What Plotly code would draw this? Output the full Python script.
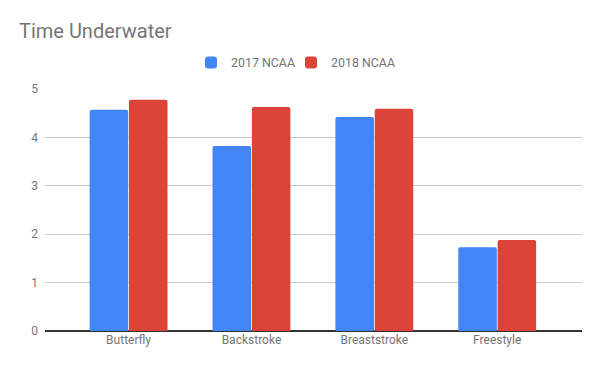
import plotly.graph_objects as go

categories = ["Butterfly", "Backstroke", "Breaststroke", "Freestyle"]
ncaa_2017 = [4.57, 3.82, 4.42, 1.73]
ncaa_2018 = [4.78, 4.63, 4.59, 1.88]
series_names = ["2017 NCAA", "2018 NCAA"]
colors = ["#4285F4", "#DB4437"]
legend_ids = ["legend", "legend2"]

fig = go.Figure()
for name, vals, c, lg in zip(series_names, [ncaa_2017, ncaa_2018], colors, legend_ids):
    fig.add_trace(go.Bar(x=categories, y=vals, name=name, legend=lg,
                         marker=dict(color=c, line=dict(width=0))))

leg_common = dict(orientation="h", xanchor="left", y=1+(89-63)/242, yanchor="middle",
                  font=dict(size=12.4, color="#757575"), itemwidth=30, bgcolor="rgba(0,0,0,0)")

fig.update_layout(
    width=600, height=371,
    paper_bgcolor="white", plot_bgcolor="white",
    font=dict(family="Roboto", color="#757575", size=12),
    title=dict(text="Time Underwater", x=19/600, xanchor="left", y=1-31/371, yanchor="middle",
               font=dict(family="Roboto", size=20, color="#757575")),
    margin=dict(l=45, r=18, t=89, b=40),
    barmode="group", bargap=0.36, bargroupgap=0.02, barcornerradius=2,
    legend=dict(x=(191-45)/537, **leg_common),
    legend2=dict(x=(291-45)/537, **leg_common),
    showlegend=True,
    xaxis=dict(range=[-0.68, 3.69], showgrid=False, ticks="", tickfont=dict(size=12, color="#757575"),
               showline=False),
    yaxis=dict(range=[0, 5], dtick=1, showgrid=True, gridcolor="#cccccc", gridwidth=1,
               zeroline=True, zerolinecolor="#333333", zerolinewidth=1.5,
               tickfont=dict(size=12, color="#757575"), ticks="", ticklabelstandoff=6),
)
fig.write_html("out.html", config={"displayModeBar": False},
               post_script="document.body.style.margin='0';document.body.style.padding='0';")
